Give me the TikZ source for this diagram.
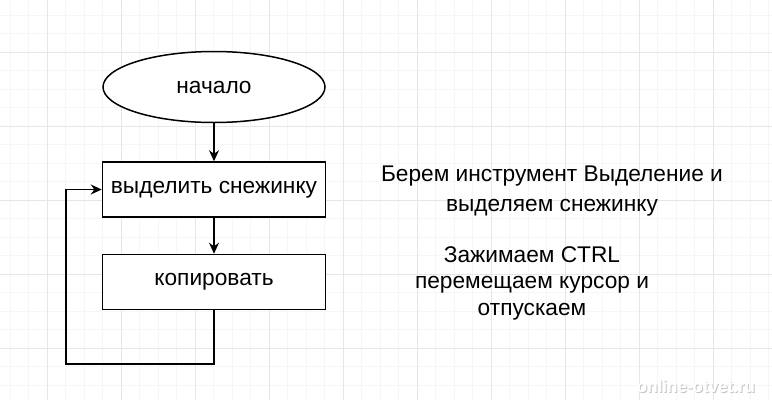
\documentclass[tikz,border=0pt]{standalone}
\usepackage{fontspec}
\setmainfont{Liberation Sans}
\usetikzlibrary{arrows.meta, shapes.geometric}

\definecolor{gridmajor}{HTML}{E6E6E6}
\definecolor{gridminor}{HTML}{F6F6F6}

\tikzset{
  block/.style={draw, line width=1.5pt, minimum width=223pt, minimum height=55pt,
    font=\fontsize{22.7}{27}\selectfont},
  terminal/.style={draw, ellipse, line width=1.5pt, minimum width=222pt, minimum height=71pt,
    font=\fontsize{22.7}{27}\selectfont},
  note/.style={align=center, font=\fontsize{22.7}{#1}\selectfont},
  flow/.style={line width=1.5pt, -{Stealth[length=11pt, width=10pt]}}
}

\begin{document}
\begin{tikzpicture}[x=1pt, y=-1pt]
  % Background and grid
  \fill[white] (0,0) rectangle (772,400);
  \useasboundingbox (0,0) rectangle (772,400);
  \foreach \i in {0,...,42} {
    \draw[gridminor, line width=0.6pt] ({10+18.5*\i},0) -- ({10+18.5*\i},400);
  }
  \foreach \j in {0,...,22} {
    \draw[gridminor, line width=0.6pt] (0,{15+18.5*\j}) -- (772,{15+18.5*\j});
  }
  \foreach \i in {0,...,10} {
    \draw[gridmajor, line width=1pt] ({47+74*\i},0) -- ({47+74*\i},400);
  }
  \foreach \j in {0,...,5} {
    \draw[gridmajor, line width=1pt] (0,{52+74*\j}) -- (772,{52+74*\j});
  }
  % Flowchart
  \node[terminal, fill=white] (start) at (214,87) {начало};
  \node[block, fill=white] (select) at (214,189.5) {выделить снежинку};
  \node[block, fill=white] (copy) at (214,282) {копировать};
  \coordinate (loop) at (66,364);
  \draw[flow] (start) -- (select);
  \draw[flow] (select) -- (copy);
  \draw[flow] (copy.south) |- (loop) |- (select.west);
  % Notes
  \node[note=30] (note1) at (552,191) {Берем инструмент Выделение и\\выделяем снежинку};
  \node[note=26.5] (note2) at (532,283) {Зажимаем CTRL\\перемещаем курсор и\\отпускаем};
  % Watermark
  \node[text=gray!45, font=\bfseries\fontsize{17}{17}\selectfont] (wmshadow) at (697,387) {online-otvet.ru};
  \node[text=white, font=\bfseries\fontsize{17}{17}\selectfont] (wm) at (696,386) {online-otvet.ru};
\end{tikzpicture}
\end{document}
